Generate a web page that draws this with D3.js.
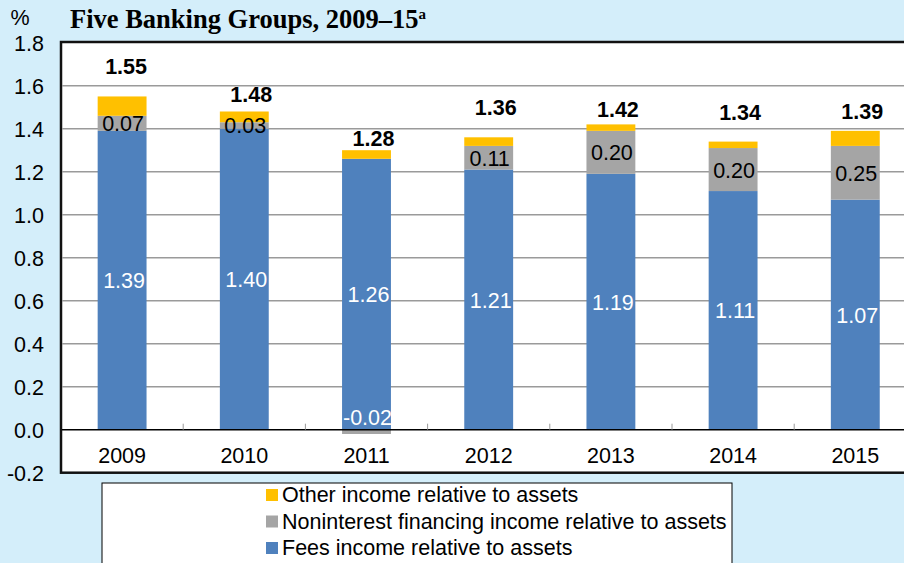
<!DOCTYPE html>
<html>
<head>
<meta charset="utf-8">
<script src="https://cdn.jsdelivr.net/npm/d3@7"></script>
<style>
  body { margin: 0; background: #d4eefa; }
  svg { display: block; }
</style>
</head>
<body>
<div id="chart"></div>
<script>
(function(){

  // data
  var years = ["2009", "2010", "2011", "2012", "2013", "2014", "2015"]
  var fees = [1.39, 1.40, 1.26, 1.21, 1.19, 1.11, 1.07]
  var nonint = [0.07, 0.03, -0.02, 0.11, 0.20, 0.20, 0.25]
  var other = [0.09, 0.05, 0.04, 0.04, 0.03, 0.03, 0.07]
  var totals = [1.55, 1.48, 1.28, 1.36, 1.42, 1.34, 1.39]
  var yTicks = [-0.2, 0, 0.2, 0.4, 0.6, 0.8, 1.0, 1.2, 1.4, 1.6, 1.8]
  var seriesNames = ["Fees income relative to assets",
                     "Noninterest financing income relative to assets",
                     "Other income relative to assets"]

  // label nudges (pixels above the bar top), as placed in the original
  var totalDy = [-29, -17, -11, -29, -14, -29, -19]

  var width = 904, height = 563
  var colors = ["#4f81bd", "#a5a5a5", "#ffc000"]
  var sans = "'Liberation Sans', Arial, sans-serif"
  var fs = "21.5px"

  var svg = d3.select("#chart").append("svg")
        .attr("width", width)
        .attr("height", height)

  var plot = { left: 61, top: 42.7, bottom: 472.7, step: 122.2 }

  var x = d3.scaleBand()
        .domain(years)
        .range([plot.left, plot.left + plot.step * years.length])
        .paddingInner(0.6)
        .paddingOuter(0.3)

  var y = d3.scaleLinear()
        .domain([-0.2, 1.8])
        .range([plot.bottom, plot.top])

  // title (first line is cut off in the source)
  var title = svg.append("text")
        .attr("x", 70)
        .attr("y", 28)
        .style("font-family", "'Liberation Serif', 'Times New Roman', serif")
        .style("font-weight", "bold")
        .style("font-size", "26.5px")
        .text("Five Banking Groups, 2009\u201315")
  title.append("tspan")
        .attr("dy", -9)
        .style("font-size", "15px")
        .text("a")

  svg.append("text")
        .attr("x", 20)
        .attr("y", 18)
        .attr("text-anchor", "middle")
        .attr("dominant-baseline", "central")
        .style("font-family", sans)
        .style("font-size", fs)
        .text("%")

  // plot frame
  svg.append("rect")
        .attr("x", plot.left)
        .attr("y", 42)
        .attr("width", 1000)
        .attr("height", plot.bottom - 42)
        .style("fill", "white")
        .style("stroke", "#111")
        .style("stroke-width", 2.5)

  // gridlines
  svg.selectAll(".grid")
        .data(yTicks.filter(function(d){ return d > 0 && d < 1.8 }))
        .enter().append("line")
        .attr("class", "grid")
        .attr("x1", plot.left + 1)
        .attr("x2", width)
        .attr("y1", function(d){ return y(d) })
        .attr("y2", function(d){ return y(d) })
        .style("stroke", "#9a9a9a")
        .style("stroke-width", 1.5)

  // y tick labels
  var f = d3.format(".1f")
  svg.selectAll(".ylab")
        .data(yTicks)
        .enter().append("text")
        .attr("class", "ylab")
        .attr("x", 44)
        .attr("y", function(d){ return y(d) + 1 })
        .attr("text-anchor", "end")
        .attr("dominant-baseline", "central")
        .style("font-family", sans)
        .style("font-size", fs)
        .text(function(d){ return d < 0 ? "-" + f(-d) : f(d) })

  // stacked bars
  var rows = years.map(function(yr, i){
    return { year: yr, fees: fees[i], nonint: nonint[i], other: other[i] }
  })
  var stack = d3.stack()
        .keys(["fees", "nonint", "other"])
        .offset(d3.stackOffsetDiverging)
  var layers = stack(rows)

  svg.selectAll(".layer")
        .data(layers)
        .enter().append("g")
        .attr("class", "layer")
        .style("fill", function(d, i){ return colors[i] })
        .selectAll("rect")
        .data(function(d){ return d })
        .enter().append("rect")
        .attr("x", function(d){ return x(d.data.year) })
        .attr("width", x.bandwidth())
        .attr("y", function(d){ return y(Math.max(d[0], d[1])) })
        .attr("height", function(d){ return Math.abs(y(d[0]) - y(d[1])) })

  // zero line and category ticks
  svg.append("line")
        .attr("x1", plot.left + 1)
        .attr("x2", width)
        .attr("y1", y(0))
        .attr("y2", y(0))
        .style("stroke", "black")
        .style("stroke-width", 1.5)

  svg.selectAll(".ctick")
        .data(years.slice(1))
        .enter().append("line")
        .attr("class", "ctick")
        .attr("x1", function(d){ return x(d) - x.step() * 0.3 })
        .attr("x2", function(d){ return x(d) - x.step() * 0.3 })
        .attr("y1", y(0) - 6)
        .attr("y2", y(0))
        .style("stroke", "#9a9a9a")
        .style("stroke-width", 1)

  // category labels
  svg.selectAll(".xlab")
        .data(years)
        .enter().append("text")
        .attr("class", "xlab")
        .attr("x", function(d){ return x(d) + x.bandwidth() / 2 })
        .attr("y", 456)
        .attr("text-anchor", "middle")
        .attr("dominant-baseline", "central")
        .style("font-family", sans)
        .style("font-size", fs)
        .text(function(d){ return d })

  var f2 = d3.format(".2f")

  // fees labels (white, middle of blue)
  svg.selectAll(".feelab")
        .data(layers[0])
        .enter().append("text")
        .attr("class", "feelab")
        .attr("x", function(d){ return x(d.data.year) + x.bandwidth() / 2 + 2 })
        .attr("y", function(d){ return y((d[0] + d[1]) / 2) + 1 })
        .attr("text-anchor", "middle")
        .attr("dominant-baseline", "central")
        .style("font-family", sans)
        .style("font-size", fs)
        .style("fill", "white")
        .text(function(d){ return f2(d.data.fees) })

  // noninterest labels
  svg.selectAll(".nilab")
        .data(layers[1])
        .enter().append("text")
        .attr("class", "nilab")
        .attr("x", function(d){ return x(d.data.year) + x.bandwidth() / 2 + 1 })
        .attr("y", function(d){
          if (d.data.nonint < 0) return y(0) - 12
          return y((d[0] + d[1]) / 2) + 1
        })
        .attr("text-anchor", "middle")
        .attr("dominant-baseline", "central")
        .style("font-family", sans)
        .style("font-size", fs)
        .style("fill", function(d){ return d.data.nonint < 0 ? "white" : "black" })
        .text(function(d){ return d.data.nonint < 0 ? "-" + f2(-d.data.nonint) : f2(d.data.nonint) })

  // totals
  svg.selectAll(".totlab")
        .data(layers[2])
        .enter().append("text")
        .attr("class", "totlab")
        .attr("x", function(d, i){ return x(d.data.year) + x.bandwidth() / 2 + (i == 0 ? 4 : 7) })
        .attr("y", function(d, i){ return y(d[1]) + totalDy[i] })
        .attr("text-anchor", "middle")
        .attr("dominant-baseline", "central")
        .style("font-family", sans)
        .style("font-size", fs)
        .style("font-weight", "bold")
        .text(function(d, i){ return f2(totals[i]) })

  // legend
  svg.append("rect")
        .attr("x", 102)
        .attr("y", 483)
        .attr("width", 630)
        .attr("height", 100)
        .style("fill", "white")
        .style("stroke", "black")
        .style("stroke-width", 1)

  var legendOrder = [2, 1, 0]
  var lg = svg.selectAll(".leg")
        .data(legendOrder)
        .enter().append("g")
        .attr("class", "leg")
        .attr("transform", function(d, i){ return "translate(266," + (495 + i * 26.5) + ")" })

  lg.append("rect")
        .attr("x", 0)
        .attr("y", -6)
        .attr("width", 12)
        .attr("height", 12)
        .style("fill", function(d){ return colors[d] })

  lg.append("text")
        .attr("x", 16)
        .attr("y", 0)
        .attr("dominant-baseline", "central")
        .style("font-family", sans)
        .style("font-size", fs)
        .text(function(d){ return seriesNames[d] })

})()
</script>
</body>
</html>
